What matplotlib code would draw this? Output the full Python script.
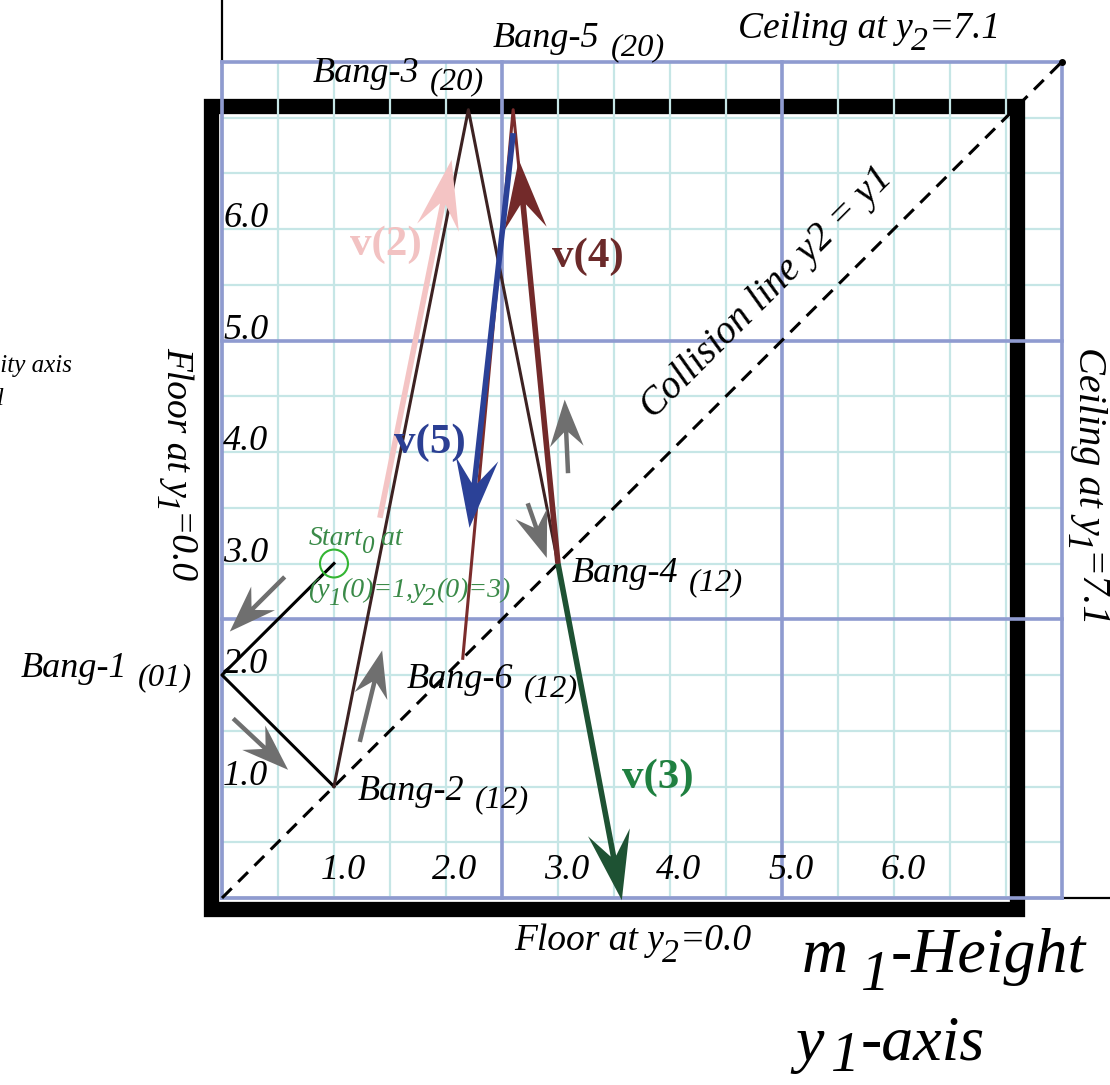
import matplotlib
matplotlib.use("Agg")
import matplotlib.pyplot as plt
from matplotlib.patches import Rectangle, Circle

plt.rcParams["font.family"] = ["Liberation Serif", "DejaVu Serif"]
plt.rcParams["font.style"] = "italic"

# --- data (y1 = m1 height, y2 = m2 height) ---
WALL = 7.1
GRID_MAX = 7.5
tick_vals = [1.0, 2.0, 3.0, 4.0, 5.0, 6.0]

start = (1.0, 3.0)
# start -> Bang-1 -> Bang-2
black_y1 = [1.0, 0.0, 1.0]
black_y2 = [3.0, 2.0, 1.0]
# Bang-2 -> Bang-3 -> Bang-4
brown_y1 = [1.0, 2.2, 3.0]
brown_y2 = [1.0, 7.07, 3.0]
# Bang-4 -> Bang-5 -> Bang-6
red_y1 = [3.0, 2.6, 2.15]
red_y2 = [3.0, 7.07, 2.15]

bang_names = ["Bang-1", "Bang-2", "Bang-3", "Bang-4", "Bang-5", "Bang-6"]
bang_subs = ["(01)", "(12)", "(20)", "(12)", "(20)", "(12)"]
bang_lbl_y1 = [-1.80, 1.21, 0.81, 3.12, 2.42, 1.65]
bang_lbl_y2 = [1.98, 0.88, 7.32, 2.83, 7.63, 1.88]

# velocity arrows: (y1, y2) of tail and tip
vel_names = ["v(2)", "v(3)", "v(4)", "v(5)"]
vel_tail = [(1.41, 3.41), (3.0, 3.0), (3.0, 3.0), (2.6, 6.86)]
vel_tip = [(2.05, 6.62), (3.57, -0.02), (2.65, 6.62), (2.21, 3.32)]
vel_colors = ["#f4c4c4", "#1e5233", "#732a2a", "#2b4197"]
vel_text_colors = ["#f2c2c2", "#1f8040", "#6b2a2a", "#2b3f93"]
vel_lbl = [(1.14, 5.77), (3.57, 0.99), (2.95, 5.66), (1.54, 3.99)]

# small gray direction arrows
gray_tail = [(0.56, 2.88), (0.10, 1.61), (1.23, 1.40), (2.73, 3.54), (3.09, 3.81)]
gray_tip = [(0.07, 2.39), (0.59, 1.15), (1.43, 2.22), (2.90, 3.05), (3.06, 4.47)]

fig = plt.figure(figsize=(11.1, 10.85), dpi=100)
ax = fig.add_axes([0, 0, 1, 1])
ax.set_xlim(-1.982, 7.929)
ax.set_ylim(-1.677, 8.054)
ax.axis("off")


def chain(x, y, parts, size, color="black", rot=0, gap=0.3, sub_scale=0.9, drop=0.18):
    """Text with big dropped subscripts: parts alternate main, sub, main, ..."""
    if rot == 0:
        first = ax.text(x, y, parts[0], fontsize=size, color=color,
                        ha="left", va="baseline", zorder=7)
    else:
        first = ax.text(x, y, parts[0], fontsize=size, color=color,
                        rotation=-90, ha="right", va="top", zorder=7)
    prev = first
    for k, s in enumerate(parts[1:]):
        is_sub = k % 2 == 0
        fs = size * sub_scale if is_sub else size
        g = gap * size if is_sub else 0.5
        d = -drop * size if is_sub else 0
        if rot == 0:
            prev = ax.annotate(s, xy=(1, 0), xycoords=(prev, first),
                               xytext=(g, d), textcoords="offset points",
                               fontsize=fs, color=color, ha="left",
                               va="bottom", zorder=7)
        else:
            prev = ax.annotate(s, xy=(0, 0), xycoords=(first, prev),
                               xytext=(d, -g), textcoords="offset points",
                               fontsize=fs, color=color, rotation=-90,
                               ha="left", va="top", zorder=7)
    return first


# grid
fine = [0.5 * k for k in range(16)]
for v in fine:
    ax.plot([v, v], [0, GRID_MAX], color="#c6e6e6", lw=1.6, zorder=3)
    ax.plot([0, GRID_MAX], [v, v], color="#c6e6e6", lw=1.6, zorder=1)
for v in [0.0, 2.5, 5.0, 7.5]:
    ax.plot([v, v], [0, GRID_MAX], color="#8f9bd0", lw=2.6, zorder=3.5)
    ax.plot([0, GRID_MAX], [v, v], color="#8f9bd0", lw=2.6, zorder=3.5)

# axis lines
ax.plot([0, 0], [0, 8.1], color="black", lw=1.6, zorder=2)
ax.plot([0, 8.0], [0, 0], color="black", lw=1.6, zorder=2)

# walls
ax.add_patch(Rectangle((-0.1, -0.1), WALL + 0.1, WALL + 0.1, fill=False,
                       ec="black", lw=11, joinstyle="miter", zorder=2))

# collision line
ax.plot([0, GRID_MAX], [0, GRID_MAX], color="black", lw=2.2,
        linestyle=(0, (4.5, 3)), zorder=4)
ax.plot([GRID_MAX], [GRID_MAX], "o", color="black", ms=4, zorder=4)

# trajectory
ax.plot(black_y1, black_y2, color="black", lw=2.2, zorder=5)
ax.plot(brown_y1, brown_y2, color="#3d2222", lw=2.2, zorder=5)
ax.plot(red_y1, red_y2, color="#7b2c2c", lw=2.2, zorder=5)

ax.add_patch(Circle(start, 0.125, fill=False, ec="#33b533", lw=1.5, zorder=6))

# velocity arrows
for (x0, y0), (x1, y1), c in zip(vel_tail, vel_tip, vel_colors):
    ax.arrow(x0, y0, x1 - x0, y1 - y0, width=0.05, head_width=0.38,
             head_length=0.62, overhang=0.35, length_includes_head=True,
             color=c, lw=0, zorder=6)
for name, (x, y), c in zip(vel_names, vel_lbl, vel_text_colors):
    ax.text(x, y, name, color=c, fontsize=31, fontweight="bold",
            fontstyle="normal", zorder=7)

for (x0, y0), (x1, y1) in zip(gray_tail, gray_tip):
    ax.arrow(x0, y0, x1 - x0, y1 - y0, width=0.04, head_width=0.3,
             head_length=0.42, overhang=0.3, length_includes_head=True,
             color="#6f6f6f", lw=0, zorder=6)

# tick labels
for v in tick_vals:
    ax.text(v + 0.08, 0.25, f"{v:.1f}", fontsize=26, ha="center", va="center", zorder=7)
    ax.text(0.01, v + 0.09, f"{v:.1f}", fontsize=26, ha="left", va="center", zorder=7)

# bang labels
for n, s, x, y in zip(bang_names, bang_subs, bang_lbl_y1, bang_lbl_y2):
    chain(x, y, [n, s], 26, gap=0.3)

chain(0.77, 3.17, ["Start", "0", " at"], 20, color="#3a8a48", gap=-0.05, drop=0.25)
chain(0.77, 2.70, ["(y", "1", "(0)=1,y", "2", "(0)=3)"], 20, color="#3a8a48",
      gap=-0.08, drop=0.25)

chain(4.61, 7.71, ["Ceiling at y", "2", "=7.1"], 27, gap=-0.05, drop=0.28)
chain(2.61, -0.47, ["Floor at y", "2", "=0.0"], 27, gap=-0.05, drop=0.28)
chain(5.18, -0.66, ["m", "1", "-Height"], 46, gap=0.2, drop=0.25)
chain(5.12, -1.45, ["y", "1", "-axis"], 46, gap=0.12, drop=0.15)
chain(-0.25, 4.94, ["Floor at y", "1", "=0.0"], 27, rot=-90, gap=-0.05, drop=0.28)
chain(7.90, 4.94, ["Ceiling at y", "1", "=7.1"], 29, rot=-90, gap=-0.05, drop=0.28)

ax.text(4.87, 5.43, "Collision line y2 = y1", fontsize=28, rotation=45,
        rotation_mode="anchor", ha="center", va="center", zorder=7)

# clipped side note at the left edge
ax.text(-1.34, 4.72, "Velocity axis", fontsize=18, ha="right", va="baseline")
ax.text(-1.94, 4.42, "Model", fontsize=18, ha="right", va="baseline")

fig.savefig("out.png", dpi=100)
